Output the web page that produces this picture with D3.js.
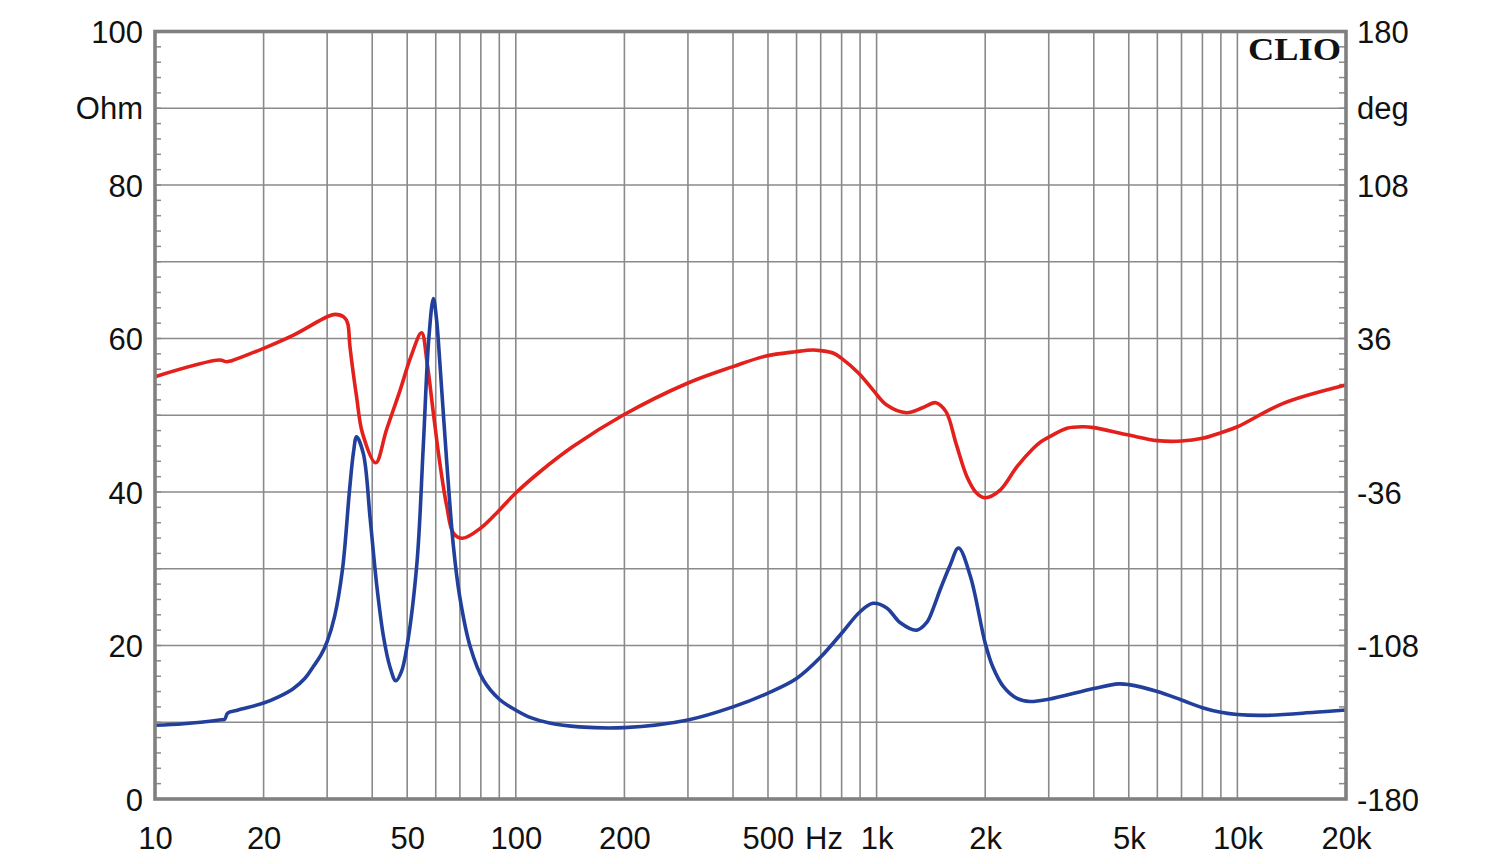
<!DOCTYPE html>
<html>
<head>
<meta charset="utf-8">
<script src="https://cdn.jsdelivr.net/npm/d3@7"></script>
<style>
  html, body { margin: 0; padding: 0; background: #fff; }
  svg { display: block; }
  .lbl text { font-family: "Liberation Sans", Arial, sans-serif; font-size: 31px; fill: #111; }
</style>
</head>
<body>
<svg id="chart" width="1500" height="864"></svg>
<script>
// impedance magnitude (Ohm) vs frequency (Hz)
const impFreq = [10, 12, 15.1, 15.6, 15.9, 17, 20, 22, 24.2, 26, 27.5, 28.8, 30, 31.5, 33.1, 34.6, 35.5, 36.2, 37.8, 39.5, 41.2, 43, 44.8, 46.5, 48.2, 49.9, 53.2, 55.4, 57.4, 59.1, 60.3, 61.6, 64.4, 67.2, 69.9, 74.8, 81.3, 90, 99.8, 110, 124, 150, 200, 300, 400, 500, 600, 700, 800, 900, 977, 1067, 1161, 1293, 1377, 1440, 1498, 1600, 1687, 1820, 2000, 2100, 2250, 2450, 2660, 3000, 4000, 4680, 5000, 6000, 7000, 8000, 9000, 10000, 12000, 16400, 20000];
const impOhm  = [9.6, 9.8, 10.3, 10.4, 11.2, 11.6, 12.5, 13.3, 14.4, 15.7, 17.3, 18.7, 20.5, 23.9, 30.0, 40.2, 45.2, 47.2, 45.0, 36.4, 27.7, 21.1, 17.2, 15.4, 16.6, 19.8, 30.7, 45.9, 60.0, 65.2, 62.5, 56.8, 43.7, 32.8, 26.4, 19.8, 15.5, 13.0, 11.6, 10.6, 9.9, 9.4, 9.3, 10.3, 12.0, 13.8, 15.7, 18.5, 21.6, 24.4, 25.5, 24.9, 23.0, 22.0, 23.0, 25.0, 27.2, 30.5, 32.7, 29.0, 20.3, 17.2, 14.6, 13.1, 12.7, 13.0, 14.4, 15.0, 14.9, 14.0, 12.9, 11.9, 11.3, 11.0, 10.9, 11.3, 11.6];

// impedance phase (deg) vs frequency (Hz)
const phaFreq = [10, 15.1, 15.8, 16.3, 20, 24.2, 30, 31.6, 33.4, 34.2, 34.7, 36.2, 37.6, 40.9, 43.8, 47.8, 51.2, 54.8, 56.8, 59.1, 61.6, 64.4, 67.2, 71.2, 80, 89.6, 99.8, 116.7, 144, 198.6, 299, 400, 494, 596, 667, 700, 760, 800, 892, 978, 1067, 1210, 1340, 1458, 1557, 1660, 1780, 1895, 2000, 2200, 2450, 2720, 2860, 3000, 3370, 3730, 4000, 5000, 6000, 7000, 8000, 9000, 10000, 13400, 20000];
const phaDeg  = [18.1, 25.9, 25.1, 25.6, 31.4, 37.6, 46.2, 47.3, 46.0, 43.1, 32.2, 8.7, -8.5, -22.3, -6.9, 11.8, 27.5, 38.7, 24.4, 0.9, -22.6, -42.9, -55.4, -57.7, -52.9, -44.9, -36.6, -26.5, -14.7, 0.1, 15.0, 22.8, 27.8, 29.8, 30.6, 30.3, 29.1, 26.7, 19.7, 11.8, 4.8, 1.2, 3.5, 5.9, 1.7, -13.2, -28.8, -36.6, -38.7, -35.1, -24.1, -15.5, -12.3, -10.3, -6.1, -5.4, -5.8, -9.3, -11.9, -12.1, -10.8, -8.2, -5.4, 5.6, 14.2];

// axis labels
const ohmTicks = [0, 20, 40, 60, 80, 100];
const degTicks = [-180, -108, -36, 36, 108, 180];
const freqTicks = [10, 20, 50, 100, 200, 500, 1000, 2000, 5000, 10000, 20000];
const ohmUnit = "Ohm", degUnit = "deg", freqUnit = "Hz";

const svg = d3.select("#chart");
const plotL = 155, plotR = 1346, plotT = 31.5, plotB = 799;

const x = d3.scaleLog().domain([10, 20000]).range([plotL, plotR]);
const yOhm = d3.scaleLinear().domain([0, 100]).range([plotB, plotT]);
const yDeg = d3.scaleLinear().domain([-180, 180]).range([plotB, plotT]);

/* Grid */
const gridColor = "#8a8a8a";
const xGrid = [];
for (let dec = 10; dec <= 10000; dec *= 10) {
  for (let m = 1; m <= 9; m++) {
    const f = dec * m;
    if (f > 10 && f < 20000) xGrid.push(f);
  }
}
svg.append("g").selectAll("line").data(xGrid).join("line")
  .attr("x1", d => x(d)).attr("x2", d => x(d))
  .attr("y1", plotT).attr("y2", plotB)
  .attr("stroke", gridColor).attr("stroke-width", 1.6);

svg.append("g").selectAll("line").data(d3.range(10, 100, 10)).join("line")
  .attr("x1", plotL).attr("x2", plotR)
  .attr("y1", d => yOhm(d)).attr("y2", d => yOhm(d))
  .attr("stroke", gridColor).attr("stroke-width", 1.6);

// minor ticks on both vertical axes, every 2 Ohm
const minor = d3.range(2, 100, 2);
svg.append("g").selectAll("line").data(minor).join("line")
  .attr("x1", plotL).attr("x2", plotL + 6)
  .attr("y1", d => yOhm(d)).attr("y2", d => yOhm(d))
  .attr("stroke", gridColor).attr("stroke-width", 1.5);
svg.append("g").selectAll("line").data(minor).join("line")
  .attr("x1", plotR - 7).attr("x2", plotR)
  .attr("y1", d => yOhm(d)).attr("y2", d => yOhm(d))
  .attr("stroke", gridColor).attr("stroke-width", 1.5);

/* Curves */
const ohmLine = d3.line()
  .x((d, i) => x(impFreq[i])).y(d => yOhm(d))
  .curve(d3.curveCatmullRom.alpha(0.5));
const degLine = d3.line()
  .x((d, i) => x(phaFreq[i])).y(d => yDeg(d))
  .curve(d3.curveCatmullRom.alpha(0.5));

svg.append("path").datum(phaDeg)
  .attr("d", degLine)
  .attr("fill", "none").attr("stroke", "#e3201b").attr("stroke-width", 3.6)
  .attr("stroke-linejoin", "round");
svg.append("path").datum(impOhm)
  .attr("d", ohmLine)
  .attr("fill", "none").attr("stroke", "#22409b").attr("stroke-width", 3.6)
  .attr("stroke-linejoin", "round");

/* Frame */
svg.append("rect")
  .attr("x", plotL).attr("y", plotT)
  .attr("width", plotR - plotL).attr("height", plotB - plotT)
  .attr("fill", "none").attr("stroke", "#808080").attr("stroke-width", 3.6);

/* Labels */
const leftAxis = svg.append("g").attr("class", "lbl")
  .attr("transform", `translate(${plotL},0)`)
  .call(d3.axisLeft(yOhm).tickValues(ohmTicks).tickSize(0).tickPadding(12).tickFormat(d => String(d)));
leftAxis.select(".domain").remove();
leftAxis.selectAll("text").attr("dy", "0.36em");
leftAxis.attr("font-size", null).attr("font-family", null);
leftAxis.append("text").attr("x", -12).attr("y", yOhm(90)).attr("dy", "0.36em")
  .attr("text-anchor", "end").text(ohmUnit);

const rightAxis = svg.append("g").attr("class", "lbl")
  .attr("transform", `translate(${plotR},0)`)
  .call(d3.axisRight(yDeg).tickValues(degTicks).tickSize(0).tickPadding(11).tickFormat(d => String(d)));
rightAxis.select(".domain").remove();
rightAxis.selectAll("text").attr("dy", "0.36em");
rightAxis.attr("font-size", null).attr("font-family", null);
rightAxis.append("text").attr("x", 11).attr("y", yOhm(90)).attr("dy", "0.36em")
  .attr("text-anchor", "start").text(degUnit);

const kFmt = d => d >= 1000 ? (d / 1000) + "k" : String(d);
const bottomAxis = svg.append("g").attr("class", "lbl")
  .attr("transform", `translate(0,${plotB})`)
  .call(d3.axisBottom(x).tickValues(freqTicks).tickSize(0).tickPadding(0).tickFormat(kFmt));
bottomAxis.select(".domain").remove();
bottomAxis.selectAll("text").attr("y", 39).attr("dy", "0.36em");
bottomAxis.attr("font-size", null).attr("font-family", null);
bottomAxis.append("text").attr("x", x(715)).attr("y", 39).attr("dy", "0.36em")
  .attr("text-anchor", "middle").text(freqUnit);

svg.append("text")
  .attr("x", 1248).attr("y", 60)
  .attr("textLength", 93).attr("lengthAdjust", "spacingAndGlyphs")
  .attr("font-family", "'Liberation Serif', 'Times New Roman', serif")
  .attr("font-weight", "bold").attr("font-size", 32).attr("fill", "#111")
  .text("CLIO");
</script>
</body>
</html>
